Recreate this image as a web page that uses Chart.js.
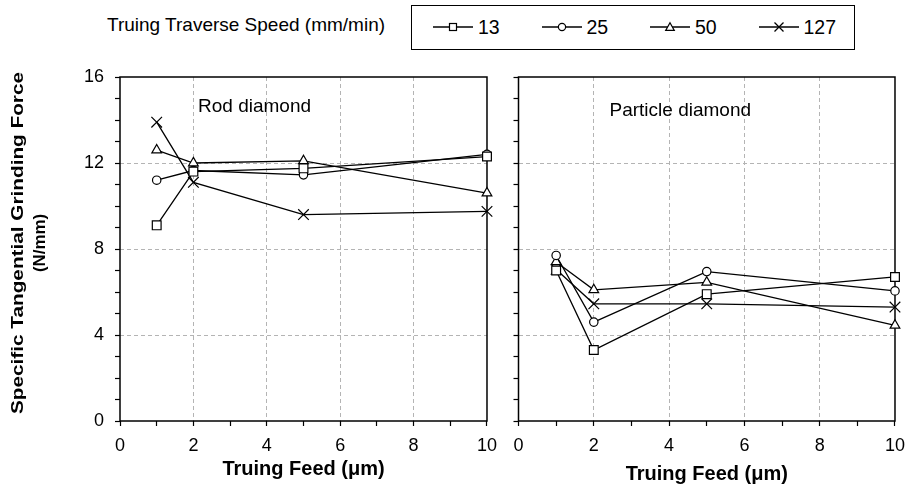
<!DOCTYPE html>
<html><head><meta charset="utf-8">
<script src="https://cdn.jsdelivr.net/npm/chart.js@4"></script>
<style>
html,body{margin:0;padding:0;background:#fff;}
body{width:909px;height:492px;overflow:hidden;position:relative;font-family:"Liberation Sans",Arial,sans-serif;color:#000;}
#c1{position:absolute;left:0;top:0;}
#c2{position:absolute;left:500px;top:0;}
#head{position:absolute;left:107px;top:13px;font-size:19px;line-height:24px;white-space:nowrap;}
#legend{position:absolute;left:411px;top:5px;width:444px;height:45px;border:1.5px solid #000;box-sizing:border-box;}
.item{position:absolute;top:0;height:42px;display:flex;align-items:center;font-size:19.5px;white-space:nowrap;}
.item svg{margin-right:5px;}
</style>
</head><body>
<div id="head">Truing Traverse Speed (mm/min)</div>
<div id="legend"></div>
<canvas id="c1" width="506" height="492"></canvas>
<canvas id="c2" width="414" height="492"></canvas>
<script>
// ---- data ----
const feeds = [1, 2, 5, 10];                 // Truing feed (µm)
const speeds = ['13', '25', '50', '127'];    // Truing traverse speed (mm/min)
const rod13   = [9.1, 11.6, 11.75, 12.3];
const rod25   = [11.2, 11.65, 11.45, 12.4];
const rod50   = [12.6, 12.0, 12.1, 10.6];
const rod127  = [13.9, 11.1, 9.6, 9.75];
const part13  = [7.0, 3.3, 5.9, 6.7];
const part25  = [7.7, 4.6, 6.95, 6.05];
const part50  = [7.4, 6.1, 6.45, 4.45];
const part127 = [7.05, 5.45, 5.45, 5.3];
const xTickLabels = [0, 2, 4, 6, 8, 10];
const yTickLabels = [0, 4, 8, 12, 16];
const panelTitles = ['Rod diamond', 'Particle diamond'];
const yTitle = ['Specific Tangential Grinding Force', '(N/mm)'];
const xTitle = 'Truing Feed (\u03bcm)';

// ---- styles ----
const markers = [
  {pointStyle: 'rect', radius: 6.2},
  {pointStyle: 'circle', radius: 4.2},
  {pointStyle: 'triangle', radius: 5.6},
  {pointStyle: 'crossRot', radius: 7.5}
];
const FONT = '"Liberation Sans", Arial, sans-serif';

// ---- legend (HTML) ----
const legendEl = document.getElementById('legend');
const svgMarks = [
  '<rect x="16.5" y="2.5" width="7" height="7" fill="#fff" stroke="#000" stroke-width="1.2"/>',
  '<circle cx="20" cy="6" r="3.6" fill="#fff" stroke="#000" stroke-width="1.2"/>',
  '<path d="M20 1.8 L24.3 9.4 L15.7 9.4 Z" fill="#fff" stroke="#000" stroke-width="1.2"/>',
  '<path d="M15.5 1.5 L24.5 10.5 M24.5 1.5 L15.5 10.5" stroke="#000" stroke-width="1.3"/>'
];
speeds.forEach((s, i) => {
  const d = document.createElement('div');
  d.className = 'item';
  d.style.left = (21 + i * 108.5) + 'px';
  d.innerHTML = '<svg width="40" height="12" viewBox="0 0 40 12"><line x1="0" y1="6" x2="40" y2="6" stroke="#000" stroke-width="1.3"/>' + svgMarks[i] + '</svg>' + s;
  legendEl.appendChild(d);
});

function makeDatasets(series) {
  return series.map((vals, i) => ({
    label: speeds[i],
    data: feeds.map((f, k) => ({x: f, y: vals[k]})),
    borderColor: '#000',
    borderWidth: 1.3,
    backgroundColor: '#fff',
    pointStyle: markers[i].pointStyle,
    pointRadius: markers[i].radius,
    pointHoverRadius: markers[i].radius,
    pointBackgroundColor: '#fff',
    pointBorderColor: '#000',
    pointBorderWidth: 1.2,
    fill: false,
    clip: false,
    tension: 0
  }));
}

const gridColor = (major) => (ctx) => {
  const v = ctx.tick ? ctx.tick.value : null;
  if (v === null) return 'rgba(0,0,0,0)';
  return major.includes(v) ? '#b4b4b4' : 'rgba(0,0,0,0)';
};

// frame + panel label + y title
const framePlugin = {
  id: 'frame',
  beforeDatasetsDraw(chart, args, opts) {
    const {ctx, chartArea: a} = chart;
    ctx.save();
    ctx.strokeStyle = '#000';
    ctx.lineWidth = 1.5;
    ctx.strokeRect(a.left, a.top, a.right - a.left, a.bottom - a.top);
    ctx.fillStyle = '#000';
    ctx.font = '19px ' + FONT;
    ctx.textAlign = 'left';
    ctx.textBaseline = 'alphabetic';
    ctx.fillText(opts.label, a.left + opts.labelDx, opts.labelY);
    ctx.restore();
  },
  afterDraw(chart, args, opts) {
    if (!opts.yTitle) return;
    const {ctx} = chart;
    const cy = opts.yTitleCenter;
    ctx.save();
    ctx.fillStyle = '#000';
    ctx.font = 'bold 17px ' + FONT;
    ctx.textAlign = 'center';
    ctx.textBaseline = 'middle';
    opts.yTitle.forEach((t, i) => {
      const w = ctx.measureText(t).width;
      ctx.save();
      ctx.translate(opts.yTitleX[i], cy);
      ctx.rotate(-Math.PI / 2);
      ctx.scale(opts.yTitleLen[i] / w, 1);
      ctx.fillText(t, 0, 0);
      ctx.restore();
    });
    ctx.restore();
  }
};

function makeOptions(showYLabels, yWidth, label, labelDx, labelY, titlePadBottom, yTitleOpts) {
  return {
    responsive: false,
    animation: false,
    events: [],
    layout: {padding: {top: 77, right: 0, bottom: 0, left: 0}},
    plugins: {
      legend: {display: false},
      tooltip: {enabled: false},
      frame: Object.assign({label, labelDx, labelY}, yTitleOpts || {})
    },
    scales: {
      x: {
        type: 'linear', min: 0, max: 10,
        ticks: {
          stepSize: 1, autoSkip: false, maxRotation: 0,
          color: '#000', font: {family: FONT, size: 18}, padding: 9,
          callback: (v) => xTickLabels.includes(v) ? String(v) : ''
        },
        grid: {
          color: gridColor([2, 4, 6, 8]), lineWidth: 1,
          drawTicks: true, tickLength: 5, tickColor: '#000', tickWidth: 1.2, tickBorderDash: []
        },
        border: {display: false, dash: [4, 3]},
        title: {
          display: true, text: xTitle, color: '#000',
          font: {family: FONT, size: 20, weight: 'bold'},
          padding: {top: 0, bottom: titlePadBottom}
        },
        afterFit: (s) => { s.height = 71; }
      },
      y: {
        type: 'linear', min: 0, max: 16,
        ticks: {
          stepSize: 1, autoSkip: false,
          color: showYLabels ? '#000' : 'rgba(0,0,0,0)',
          font: {family: FONT, size: 18}, padding: 11,
          callback: (v) => (showYLabels && yTickLabels.includes(v)) ? String(v) : ''
        },
        grid: {
          color: gridColor([4, 8, 12]), lineWidth: 1,
          drawTicks: true, tickLength: 5, tickColor: '#000', tickWidth: 1.2, tickBorderDash: []
        },
        border: {display: false, dash: [4, 3]},
        afterFit: (s) => { s.width = yWidth; }
      }
    }
  };
}

new Chart(document.getElementById('c1'), {
  type: 'line',
  data: {datasets: makeDatasets([rod13, rod25, rod50, rod127])},
  options: makeOptions(true, 120, panelTitles[0], 78, 112, 11,
    {yTitle: yTitle, yTitleX: [18.5, 40], yTitleLen: [342, 58], yTitleCenter: 243}),
  plugins: [framePlugin]
});

new Chart(document.getElementById('c2'), {
  type: 'line',
  data: {datasets: makeDatasets([part13, part25, part50, part127])},
  options: makeOptions(false, 18.5, panelTitles[1], 91, 116, 6, null),
  plugins: [framePlugin]
});
</script>
</body></html>
